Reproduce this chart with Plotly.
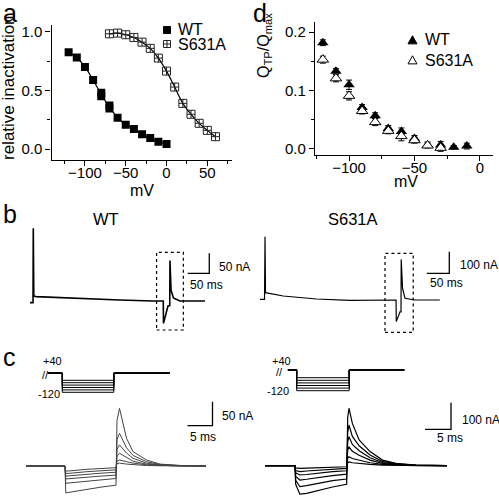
import plotly.graph_objects as go

W, H = 499, 497
FONT = "Liberation Sans, Arial, sans-serif"

# ---------------- panel a : steady-state inactivation ----------------
a_v_wt = [-120, -110, -100, -90, -80, -80, -70, -70, -60, -50, -40, -30, -20, -10, 0]
a_inact_wt = [0.824, 0.78, 0.70, 0.588, 0.48, 0.45, 0.37, 0.345, 0.267, 0.207, 0.17,
              0.125, 0.094, 0.062, 0.043]
a_v_s631a = [-70, -60, -50, -40, -30, -20, -10, 0, 10, 20, 30, 40, 50, 60]
a_inact_s631a = [0.982, 0.988, 0.974, 0.951, 0.911, 0.858, 0.775, 0.664, 0.528, 0.389,
                 0.296, 0.219, 0.159, 0.105]
a_xticks = [-100, -50, 0, 50]
a_yticks = [0.0, 0.5, 1.0]

# ---------------- panel d : QTP/Qmax ----------------
d_v_wt = [-120, -110, -100, -90, -80, -70, -60, -50, -40, -30, -20, -10]
d_q_wt = [0.182, 0.133, 0.110, 0.071, 0.057, 0.035, 0.030, 0.018, 0.007, 0.007, 0.003, 0.005]
d_err_wt = [0.005, 0.005, 0.008, 0.005, 0.005, 0.005, 0.006, 0.005, 0.005, 0.006, 0.003, 0.005]
d_v_s631a = [-120, -110, -100, -90, -80, -70, -60, -50, -40, -30]
d_q_s631a = [0.153, 0.121, 0.091, 0.065, 0.046, 0.031, 0.022, 0.015, 0.006, 0.002]
d_err_s631a = [0.006, 0.006, 0.007, 0.005, 0.006, 0.005, 0.008, 0.005, 0.004, 0.006]
d_xticks = [-100, -50, 0]
d_yticks = [0.0, 0.1, 0.2]

# ---------------- panel b : long recordings (ms, nA) ----------------
b_wt_t = [0, 7, 7.6, 8.8, 14, 53, 131, 208, 285, 308.5, 309, 319.5, 323.5, 324, 326.5, 332, 347, 405]
b_wt_i = [-4, -4, 182, 12.5, 11, 9, 5, 2.5, 0, 0, -56, -12, -12, 101, 27, 7.5, 0, 0]
b_s631a_t = [0, 10, 11.1, 12.2, 51.5, 125, 199, 272, 301, 301.5, 309.7, 312, 312.4, 315.3, 320.8, 343, 398]
b_s631a_i = [3, 3, 293, 34, 18.5, 4.6, -1.4, 0, 0, -100, -55, -55, 188, 55, 8, 0, 0]
b_wt_box_t = [293, 355]
b_wt_box_i = [-72.5, 121.75]
b_s631a_box_t = [276.5, 339]
b_s631a_box_i = [-149.5, 216]

# ---------------- panel c : tail currents (ms, nA) ----------------
c_wt_t = [0, 7.8, 7.95, 9, 12, 15, 18, 18.2, 18.7, 20.1, 21.4, 24.1, 26.8, 31, 36]
c_wt_i = [
    [0, 0, -56, -54, -48.5, -44, -40, 95, 120, 58, 30, 12.5, 4, 1, 0],
    [0, 0, -36, -35, -31, -28, -26, 55, 68, 38, 22, 9, 3, 0.5, 0],
    [0, 0, -27, -26, -23, -21, -19, 35, 44, 27, 16, 6, 2, 0.5, 0],
    [0, 0, -21, -20, -17, -15, -13, 21, 26.5, 17, 10, 4, 1.5, 0, 0],
    [0, 0, -15.5, -15, -12, -10, -8, 10, 12.5, 9, 6, 2.5, 1, 0, 0],
    [0, 0, -10.5, -10, -7, -5, -3.5, 5, 6, 4, 3, 1, 0.5, 0, 0],
]
c_s631a_t = [0, 5.77, 5.9, 6.7, 8, 10.6, 13, 15.7, 15.9, 16.15, 16.8, 18.1, 20.2, 22.6, 25.2, 29, 35]
c_s631a_i = [
    [0, 0, -70, -107, -104, -91, -80, -70, 180, 216, 159, 97, 53, 21, 9, 2.6, 0],
    [0, 0, -55, -79, -75, -64, -56, -50, 125, 153, 110, 75, 40, 16, 7, 2, 0],
    [0, 0, -40, -54, -51, -43, -37, -32, 90, 109, 80, 56, 30, 12, 5, 1.5, 0],
    [0, 0, -27, -35, -33, -27, -22, -19, 58, 71, 54, 39, 21, 9, 4, 1, 0],
    [0, 0, -18, -22.5, -20, -16, -12, -10, 28, 34, 27, 20, 11, 5, 2, 0.5, 0],
    [0, 0, -8, -10, -9, -7, -5, -4, 11, 14, 11, 8, 5, 2, 1, 0, 0],
]

# ---------------- voltage protocols (ms, mV) ----------------
prot_wt_t = [5.1, 8, 8, 18.3, 18.3, 29.5]
prot_s631a_t = [6.3, 8, 8, 18.1, 18.1, 28.7]
prot_hold = 40
prot_levels = [-120, -100, -80, -60, -40, -20]

# scale bars (ms, nA)
bar_b_wt = dict(t=415, i=69.25, dt=50, di=50)
bar_b_s631a = dict(t=418.8, i=123.6, dt=50, di=100)
bar_c_wt = dict(t=37.3, i=84, dt=5, di=50)
bar_c_s631a = dict(t=35.77, i=136.8, dt=5, di=100)


def PX(x):
    return x / W


def PY(y):
    return 1 - y / H


def hidden_axes(left, right, top, bot, x0px, xs, y0px, ys):
    xa = dict(domain=[PX(left), PX(right)],
              range=[(left - x0px) / xs, (right - x0px) / xs],
              visible=False, fixedrange=True, automargin=False)
    ya = dict(domain=[PY(bot), PY(top)],
              range=[(y0px - bot) / ys, (y0px - top) / ys],
              visible=False, fixedrange=True, automargin=False)
    return xa, ya


fig = go.Figure()

# ---- panel a traces
def mean_by_x(xs, ys):
    d = {}
    for x, y in zip(xs, ys):
        d.setdefault(x, []).append(y)
    kx = sorted(d)
    return kx, [sum(d[k]) / len(d[k]) for k in kx]

fx, fy = mean_by_x(a_v_wt, a_inact_wt)
fig.add_trace(go.Scatter(x=fx, y=fy, mode="lines", line=dict(color="black", width=1.2, shape="spline"),
                         xaxis="x", yaxis="y", showlegend=False, hoverinfo="skip"))
fig.add_trace(go.Scatter(x=a_v_s631a, y=a_inact_s631a, mode="lines",
                         line=dict(color="black", width=1.2, shape="spline"),
                         xaxis="x", yaxis="y", showlegend=False, hoverinfo="skip"))
fig.add_trace(go.Scatter(x=a_v_wt, y=a_inact_wt, mode="markers", name="WT",
                         marker=dict(symbol="square", size=8, color="black"),
                         xaxis="x", yaxis="y", showlegend=False))
fig.add_trace(go.Scatter(x=a_v_s631a, y=a_inact_s631a, mode="markers", name="S631A",
                         marker=dict(symbol="square-cross-open", size=8, color="#222",
                                     line=dict(width=1, color="#222")),
                         xaxis="x", yaxis="y", showlegend=False))

# ---- panel d traces
fig.add_trace(go.Scatter(x=d_v_wt, y=d_q_wt, mode="markers", name="WT",
                         error_y=dict(type="data", array=d_err_wt, color="black", thickness=1, width=3),
                         marker=dict(symbol="triangle-up", size=10, color="black"),
                         xaxis="x2", yaxis="y2", showlegend=False))
fig.add_trace(go.Scatter(x=d_v_s631a, y=d_q_s631a, mode="markers", name="S631A",
                         error_y=dict(type="data", array=d_err_s631a, color="black", thickness=1, width=3),
                         marker=dict(symbol="triangle-up", size=10, color="white",
                                     line=dict(width=1, color="black")),
                         xaxis="x2", yaxis="y2", showlegend=False))

# ---- panel b
fig.add_trace(go.Scatter(x=b_wt_t, y=b_wt_i, mode="lines", line=dict(color="black", width=1.6),
                         xaxis="x3", yaxis="y3", showlegend=False, hoverinfo="skip"))
fig.add_trace(go.Scatter(x=b_s631a_t, y=b_s631a_i, mode="lines", line=dict(color="black", width=1.2),
                         xaxis="x4", yaxis="y4", showlegend=False, hoverinfo="skip"))

# ---- panel c
for tr in c_wt_i:
    fig.add_trace(go.Scatter(x=c_wt_t, y=tr, mode="lines", line=dict(color="#444", width=1),
                             xaxis="x5", yaxis="y5", showlegend=False, hoverinfo="skip"))
for tr in c_s631a_i:
    fig.add_trace(go.Scatter(x=c_s631a_t, y=tr, mode="lines", line=dict(color="black", width=1.2),
                             xaxis="x6", yaxis="y6", showlegend=False, hoverinfo="skip"))

# ---- protocols
for lv in prot_levels:
    fig.add_trace(go.Scatter(x=prot_wt_t, y=[prot_hold, prot_hold, lv, lv, prot_hold, prot_hold],
                             mode="lines", line=dict(color="black", width=1),
                             xaxis="x7", yaxis="y7", showlegend=False, hoverinfo="skip"))
    fig.add_trace(go.Scatter(x=prot_s631a_t, y=[prot_hold, prot_hold, lv, lv, prot_hold, prot_hold],
                             mode="lines", line=dict(color="black", width=1),
                             xaxis="x8", yaxis="y8", showlegend=False, hoverinfo="skip"))

axis_common = dict(showline=True, linecolor="black", linewidth=1.3, ticks="outside", ticklen=5,
                   tickwidth=1.3, tickcolor="black", showgrid=False, zeroline=False, automargin=False,
                   tickfont=dict(family=FONT, size=15, color="black"), fixedrange=True)

layout = dict(
    width=W, height=H, margin=dict(l=0, r=0, t=0, b=0, pad=0), autosize=False,
    paper_bgcolor="white", plot_bgcolor="rgba(0,0,0,0)",
    font=dict(family=FONT, color="black"),
    xaxis=dict(domain=[PX(51.5), PX(231.8)], range=[-141, 80], tickvals=a_xticks, anchor="y",
               ticklabelstandoff=-6,
               minor=dict(dtick=25, tick0=0, ticks="outside", ticklen=3, tickwidth=1.3, tickcolor="black"),
               **axis_common),
    yaxis=dict(domain=[PY(159.5), PY(25)], range=[-0.0895, 1.057], tickvals=a_yticks, tickformat=".1f",
               anchor="x",
               minor=dict(dtick=0.25, tick0=0, ticks="outside", ticklen=3, tickwidth=1.3, tickcolor="black"),
               **axis_common),
    xaxis2=dict(domain=[PX(315), PX(493)], range=[-126, 10], tickvals=d_xticks, anchor="y2",
                ticklabelstandoff=-6,
                minor=dict(dtick=25, tick0=0, ticks="outside", ticklen=3, tickwidth=1.3, tickcolor="black"),
                **axis_common),
    yaxis2=dict(domain=[PY(155), PY(21.7)], range=[-0.0103, 0.218], tickvals=d_yticks, tickformat=".1f",
                anchor="x2",
                minor=dict(dtick=0.05, tick0=0, ticks="outside", ticklen=3, tickwidth=1.3, tickcolor="black"),
                **axis_common),
)

ax = {}
ax[3] = hidden_axes(20, 250, 222, 340, 30, 0.432, 301, 0.4)
ax[4] = hidden_axes(255, 499, 222, 340, 260, 0.452, 300, 0.216)
ax[5] = hidden_axes(20, 250, 395, 497, 26, 5.0, 466, 0.48)
ax[6] = hidden_axes(255, 499, 395, 497, 265, 5.2, 465.7, 0.266)
ax[7] = hidden_axes(20, 250, 345, 400, 22.3, 5.0, 377.9, 0.12)
ax[8] = hidden_axes(255, 499, 345, 400, 255.1, 5.2, 375.1, 0.13)
for k, (xa, ya) in ax.items():
    xa["anchor"] = f"y{k}"
    ya["anchor"] = f"x{k}"
    layout[f"xaxis{k}"] = xa
    layout[f"yaxis{k}"] = ya

shapes = []
# dotted boxes
for k, bt, bi in [(3, b_wt_box_t, b_wt_box_i), (4, b_s631a_box_t, b_s631a_box_i)]:
    shapes.append(dict(type="rect", xref=f"x{k}", yref=f"y{k}", x0=bt[0], x1=bt[1], y0=bi[0], y1=bi[1],
                       line=dict(color="black", width=1.2, dash="dot"), fillcolor="rgba(0,0,0,0)"))
# scale bars
for k, bar in [(3, bar_b_wt), (4, bar_b_s631a), (5, bar_c_wt), (6, bar_c_s631a)]:
    shapes.append(dict(type="path", xref=f"x{k}", yref=f"y{k}",
                       path=f"M {bar['t'] - bar['dt']} {bar['i']} L {bar['t']} {bar['i']} L {bar['t']} {bar['i'] + bar['di']}",
                       line=dict(color="black", width=1.3)))

# legend keys (paper coordinates)
def sq(cx, cy, s):
    return dict(x0=PX(cx - s / 2), x1=PX(cx + s / 2), y0=PY(cy + s / 2), y1=PY(cy - s / 2))

shapes.append(dict(type="rect", xref="paper", yref="paper", fillcolor="black",
                   line=dict(color="black", width=1), **sq(167, 30, 7)))
shapes.append(dict(type="rect", xref="paper", yref="paper", fillcolor="white",
                   line=dict(color="#222", width=1), **sq(167, 44, 7)))
shapes.append(dict(type="path", xref="paper", yref="paper",
                   path=f"M {PX(167)} {PY(40.5)} L {PX(167)} {PY(47.5)} M {PX(163.5)} {PY(44)} L {PX(170.5)} {PY(44)}",
                   line=dict(color="#222", width=1)))

def tri(cx, cy, s):
    return (f"M {PX(cx - s / 2)} {PY(cy + s * 0.43)} L {PX(cx + s / 2)} {PY(cy + s * 0.43)} "
            f"L {PX(cx)} {PY(cy - s * 0.47)} Z")

shapes.append(dict(type="path", xref="paper", yref="paper", path=tri(412.5, 40, 9),
                   fillcolor="black", line=dict(color="black", width=1)))
shapes.append(dict(type="path", xref="paper", yref="paper", path=tri(412.5, 60, 9),
                   fillcolor="white", line=dict(color="black", width=1)))
layout["shapes"] = shapes

ann = []
def text(x, y, s, size, xanchor="center", yanchor="middle", angle=0):
    ann.append(dict(x=PX(x), y=PY(y), xref="paper", yref="paper", text=s, showarrow=False,
                    xanchor=xanchor, yanchor=yanchor, textangle=angle,
                    font=dict(family=FONT, size=size, color="black")))

# panel letters
text(1, 12.5, "a", 25, "left")
text(251, 12.5, "d", 25, "left")
text(1, 214, "b", 25, "left")
text(1, 357, "c", 25, "left")
# axis titles
text(8, 88, "relative inactivation", 17, angle=-90)
text(142, 190, "mV", 16)
text(265, 46, "Q<sub>TP</sub>/Q<sub>max</sub>", 16, angle=-90)
text(406, 182, "mV", 16)
# legends
text(176, 30, "WT", 16, "left")
text(176, 44, "S631A", 16, "left")
text(423, 40, "WT", 16, "left")
text(423, 60, "S631A", 16, "left")
# panel b titles
text(105.5, 219.5, "WT", 16.5)
text(353, 219.5, "S631A", 16.5)
# scale bar labels
text(217, 266.5, "50 nA", 12, "left")
text(188, 285, "50 ms", 12, "left")
text(458, 265, "100 nA", 12, "left")
text(428, 283, "50 ms", 12, "left")
text(220, 416, "50 nA", 12, "left")
text(188, 437, "5 ms", 12, "left")
text(460, 420, "100 nA", 12, "left")
text(435, 438, "5 ms", 12, "left")
# protocol labels
text(52, 361, "+40", 11)
text(49, 394, "-120", 11)
text(45, 375, "//", 11)
text(281, 361, "+40", 11)
text(278, 391, "-120", 11)
text(279, 372, "//", 11)
layout["annotations"] = ann

fig.update_layout(**layout)
fig.write_html("out.html", config={"displayModeBar": False},
               post_script="document.body.style.margin='0';document.body.style.overflow='hidden';")
